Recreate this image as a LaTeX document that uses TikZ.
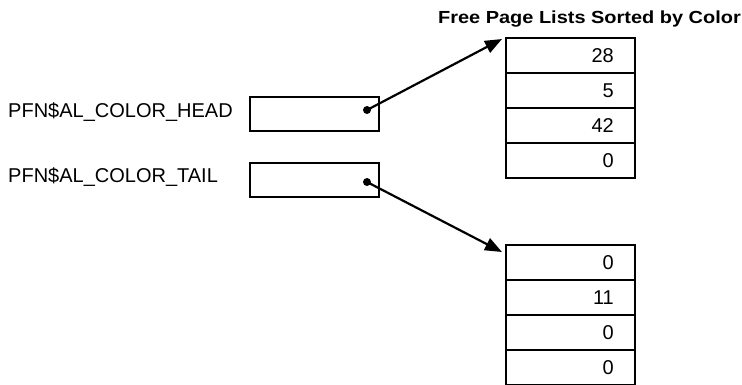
\documentclass[tikz,border=0pt]{standalone}
\usepackage{fontspec}
\setmainfont{Liberation Sans}
\newfontfamily\titlefont[FakeStretch=1.14]{Liberation Sans}
\usetikzlibrary{arrows.meta}
\begin{document}
\begin{tikzpicture}[x=1pt,y=-1pt,
  box/.style={draw,line width=2pt,minimum width=129pt,minimum height=34pt,inner sep=0pt,anchor=north west},
  cell/.style={draw,line width=2pt,minimum width=129pt,minimum height=35pt,inner sep=0pt,anchor=north west},
  val/.style={font=\fontsize{20}{20}\selectfont,inner sep=0pt,anchor=base east},
  lbl/.style={font=\fontsize{20}{20}\selectfont,inner sep=0pt,anchor=base west},
  ptr/.style={line width=2.2pt,-{Triangle[length=17pt,width=13pt]}},
  dot/.style={circle,fill,inner sep=0pt,minimum size=8pt}]
\useasboundingbox (0,0) rectangle (742,384);

% title
\node[font=\titlefont\bfseries\fontsize{17.5}{17.5}\selectfont,inner sep=0pt,anchor=base east] (title) at (741,23) {Free Page Lists Sorted by Color};

% pointer cells
\node[lbl] (headlbl) at (8,117) {PFN\$AL\_COLOR\_HEAD};
\node[lbl] (taillbl) at (8,182) {PFN\$AL\_COLOR\_TAIL};
\node[box] (headbox) at (249,96) {};
\node[box] (tailbox) at (249,162) {};
\node[dot] (hd) at (367,110) {};
\node[dot] (td) at (367,182) {};

% upper list
\foreach \i/\v in {1/28,2/5,3/42,4/0}{
  \node[cell] (a\i) at (505,{37+35*(\i-1)}) {};
  \node[val] (av\i) at (614,{37+35*(\i-1)+25}) {\v};
}
% lower list
\foreach \i/\v in {1/0,2/11,3/0,4/0}{
  \node[cell] (b\i) at (505,{244+35*(\i-1)}) {};
  \node[val] (bv\i) at (614,{244+35*(\i-1)+25}) {\v};
}

\coordinate (atip) at ([shift={(-3pt,-2pt)}]a1.north west);
\coordinate (btip) at ([shift={(-3pt,-8pt)}]b1.north west);
\draw[ptr] (hd.center) -- (atip);
\draw[ptr] (td.center) -- (btip);
\end{tikzpicture}
\end{document}
